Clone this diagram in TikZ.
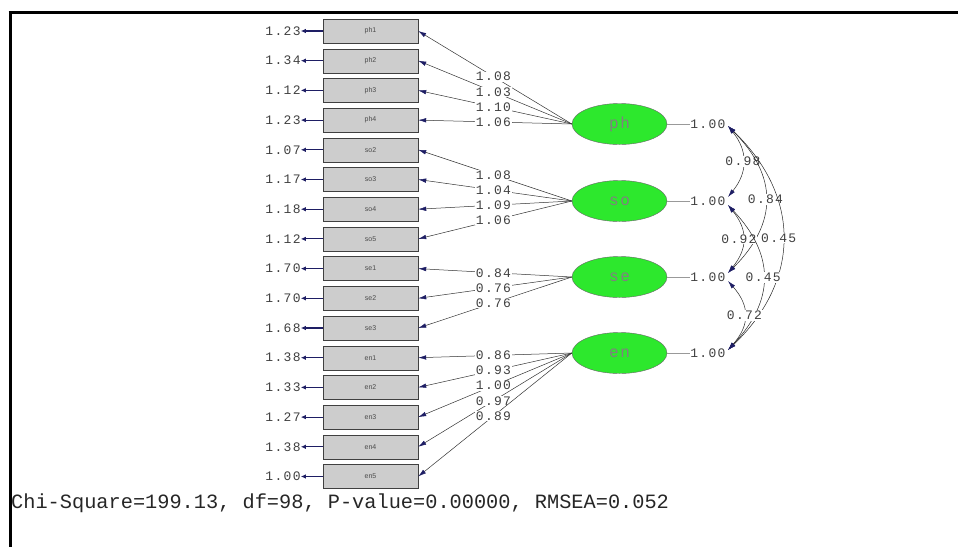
\documentclass[tikz,border=0pt]{standalone}
\usepackage{fontspec}
\usepackage{tikz}
\usetikzlibrary{shapes.geometric,arrows.meta,positioning,calc}
\newfontfamily\lisfont{Liberation Mono}[LetterSpace=10]
\newfontfamily\chifont{Liberation Mono}
\newfontfamily\boxfont{Liberation Sans}
\definecolor{lisnavy}{RGB}{30,30,100}
\definecolor{lisgreen}{RGB}{45,232,45}
\definecolor{boxgray}{RGB}{205,205,205}
\tikzset{
    obs/.style={draw=black!75,fill=boxgray,minimum width=95pt,minimum height=24pt,inner sep=0pt,
        font=\boxfont\fontsize{7}{8}\selectfont,text=black!70},
    lat/.style={ellipse,draw=black!60,fill=lisgreen,minimum width=95pt,minimum height=41pt,inner sep=0pt,
        font=\lisfont\fontsize{16}{18}\selectfont,text=black!50},
    num/.style={inner sep=0pt,font=\lisfont\fontsize{13}{15}\selectfont,text=black!75},
    lbl/.style={num,fill=white,inner sep=0.6pt,pos=0.51},
    load/.style={draw=black!80,line width=0.5pt,-{Latex[length=8pt,width=4.5pt,color=lisnavy]}},
    errarr/.style={draw=lisnavy,line width=1.1pt,-{Latex[length=5pt,width=4.5pt,color=lisnavy]}},
    cov/.style={draw=black!85,line width=0.5pt,
        {Latex[length=8pt,width=4.5pt,color=lisnavy]}-{Latex[length=8pt,width=4.5pt,color=lisnavy]}}
}
\begin{document}
\begin{tikzpicture}[x=1pt,y=-1pt]
    \useasboundingbox (0,0) rectangle (958,547);

    % 边框
    \draw[line width=3pt] (8.5,12) -- (958,12);
    \draw[line width=3pt] (10,12) -- (10,547);

    % 观测变量与误差
    \foreach \i/\name/\err in {0/ph1/1.23,1/ph2/1.34,2/ph3/1.12,3/ph4/1.23,
        4/so2/1.07,5/so3/1.17,6/so4/1.18,7/so5/1.12,
        8/se1/1.70,9/se2/1.70,10/se3/1.68,
        11/en1/1.38,12/en2/1.33,13/en3/1.27,14/en4/1.38,15/en5/1.00}{
        \node[obs] (\name) at (370.5,{31+29.7*\i}) {\name};
        \node[num,left=22pt of \name] (e\name) {\err};
        \draw[errarr] (\name.west) -- (e\name.east);
    }

    % 潜变量
    \node[lat] (ph) at (619.5,124) {ph};
    \node[lat] (so) at (619.5,201) {so};
    \node[lat] (se) at (619.5,277) {se};
    \node[lat] (en) at (619.5,353) {en};

    % 因子载荷
    \draw[load] (ph.west) -- node[lbl] {1.08} (ph1.east);
    \draw[load] (ph.west) -- node[lbl] {1.03} (ph2.east);
    \draw[load] (ph.west) -- node[lbl] {1.10} (ph3.east);
    \draw[load] (ph.west) -- node[lbl] {1.06} (ph4.east);
    \draw[load] (so.west) -- node[lbl] {1.08} (so2.east);
    \draw[load] (so.west) -- node[lbl] {1.04} (so3.east);
    \draw[load] (so.west) -- node[lbl] {1.09} (so4.east);
    \draw[load] (so.west) -- node[lbl] {1.06} (so5.east);
    \draw[load] (se.west) -- node[lbl] {0.84} (se1.east);
    \draw[load] (se.west) -- node[lbl] {0.76} (se2.east);
    \draw[load] (se.west) -- node[lbl] {0.76} (se3.east);
    \draw[load] (en.west) -- node[lbl] {0.86} (en1.east);
    \draw[load] (en.west) -- node[lbl] {0.93} (en2.east);
    \draw[load] (en.west) -- node[lbl] {1.00} (en3.east);
    \draw[load] (en.west) -- node[lbl] {0.97} (en4.east);
    \draw[load] (en.west) -- node[lbl] {0.89} (en5.east);

    % 潜变量方差
    \foreach \f in {ph,so,se,en}{
        \node[num,right=23pt of \f] (v\f) {1.00};
        \draw[black!40,line width=0.5pt] (\f.east) -- (v\f.west);
    }

    % 协方差
    \coordinate (cph) at (728,126);
    \coordinate (cso1) at (728,197);
    \coordinate (cso2) at (728,205);
    \coordinate (cse1) at (728,273);
    \coordinate (cse2) at (728,281);
    \coordinate (cen) at (728,350);
    \draw[cov] (cph) .. controls +(20,25) and +(20,-25) .. node[lbl,pos=0.5] {0.98} (cso1);
    \draw[cov] (cph) .. controls +(50,50) and +(50,-50) .. node[lbl,pos=0.5] {0.84} (cse1);
    \draw[cov] (cph) .. controls +(73,70) and +(73,-70) .. node[lbl,pos=0.5,xshift=-4pt] {0.45} (cen);
    \draw[cov] (cso2) .. controls +(20,25) and +(20,-25) .. node[lbl,pos=0.5,xshift=-4pt] {0.92} (cse1);
    \draw[cov] (cso2) .. controls +(47,50) and +(47,-50) .. node[lbl,pos=0.5] {0.45} (cen);
    \draw[cov] (cse2) .. controls +(22,25) and +(22,-25) .. node[lbl,pos=0.5] {0.72} (cen);

    % 拟合指标
    \node[anchor=west,inner sep=0pt,font=\chifont\fontsize{20.3}{22}\selectfont,text=black!85] (fit) at (11,503)
        {Chi-Square=199.13, df=98, P-value=0.00000, RMSEA=0.052};
\end{tikzpicture}
\end{document}
